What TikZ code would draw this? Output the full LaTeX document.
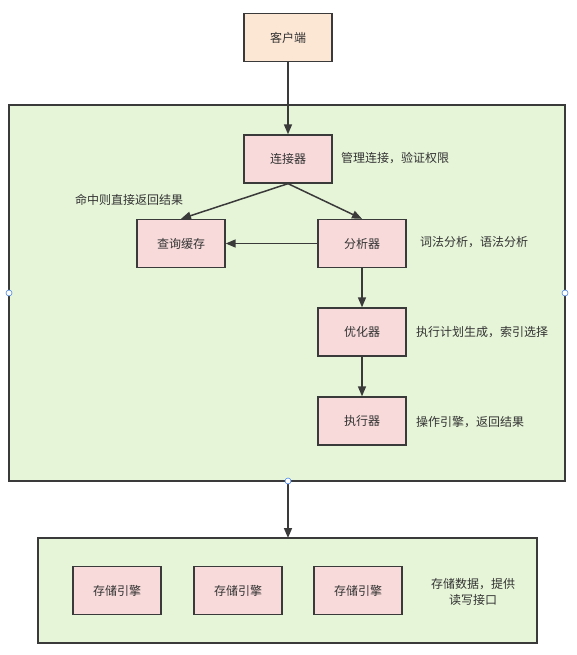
\documentclass[tikz,border=0pt]{standalone}
\usepackage{fontspec}
\newfontfamily\cjk{Noto Sans CJK SC}
\usetikzlibrary{arrows.meta}
\definecolor{peach}{HTML}{FCE6D4}
\definecolor{pinkbox}{HTML}{F8DADA}
\definecolor{greenbg}{HTML}{E6F5D8}
\definecolor{edge}{HTML}{3A3A3A}
\definecolor{txt}{HTML}{333333}
\definecolor{handle}{HTML}{4A86E8}
\tikzset{
  box/.style={draw=edge, line width=1.3pt, minimum width=88pt, minimum height=48pt, inner sep=0pt, text=txt, font=\cjk\fontsize{12}{14}\selectfont},
  clientbox/.style={box, fill=peach},
  procbox/.style={box, fill=pinkbox},
  area/.style={draw=edge, line width=1.3pt, fill=greenbg},
  note/.style={text=txt, font=\cjk\fontsize{12}{16}\selectfont, inner sep=0pt},
  flow/.style={draw=edge, line width=1.5pt, -{Triangle[length=10pt,width=8pt]}},
  hdl/.style={circle, draw=handle, fill=white, line width=0.6pt, minimum size=6pt, inner sep=0pt}
}
\begin{document}
\begin{tikzpicture}[x=1pt,y=-1pt]
\useasboundingbox (0,0) rectangle (576,655);
\fill[white] (0,0) rectangle (576,655);
% areas
\draw[area] (9,105) rectangle (565,481);
\draw[area] (38,538) rectangle (537,643);
% nodes
\node[clientbox] (client) at (288,37.5) {客户端};
\node[procbox] (conn) at (288,159) {连接器};
\node[procbox] (cache) at (181,243.5) {查询缓存};
\node[procbox] (parser) at (362,243.5) {分析器};
\node[procbox] (opt) at (362,332) {优化器};
\node[procbox] (exec) at (362,421) {执行器};
\node[procbox] (se1) at (117,590.5) {存储引擎};
\node[procbox] (se2) at (238,590.5) {存储引擎};
\node[procbox] (se3) at (358,590.5) {存储引擎};
% notes
\node[note, anchor=west] (n1) at (341,158) {管理连接，验证权限};
\node[note, anchor=west] (n2) at (75,200) {命中则直接返回结果};
\node[note, anchor=west] (n3) at (420,242) {词法分析，语法分析};
\node[note, anchor=west] (n4) at (416,332) {执行计划生成，索引选择};
\node[note, anchor=west] (n5) at (416,422) {操作引擎，返回结果};
\node[note, align=center] (n6) at (473,592) {存储数据，提供\\读写接口};
% handles
\coordinate (top) at (288,481);
\coordinate (bot) at (288,538);
% connectors
\draw[flow] (client.south) -- (conn.north);
\draw[flow] (conn.south) -- (cache.north);
\draw[flow] (conn.south) -- (parser.north);
\draw[flow] (parser.west) -- (cache.east);
\draw[flow] (parser.south) -- (opt.north);
\draw[flow] (opt.south) -- (exec.north);
\draw[flow] (top) -- (bot);
\node[hdl] (h1) at (9,293) {};
\node[hdl] (h2) at (565,293) {};
\node[hdl] (h3) at (top) {};
\end{tikzpicture}
\end{document}
